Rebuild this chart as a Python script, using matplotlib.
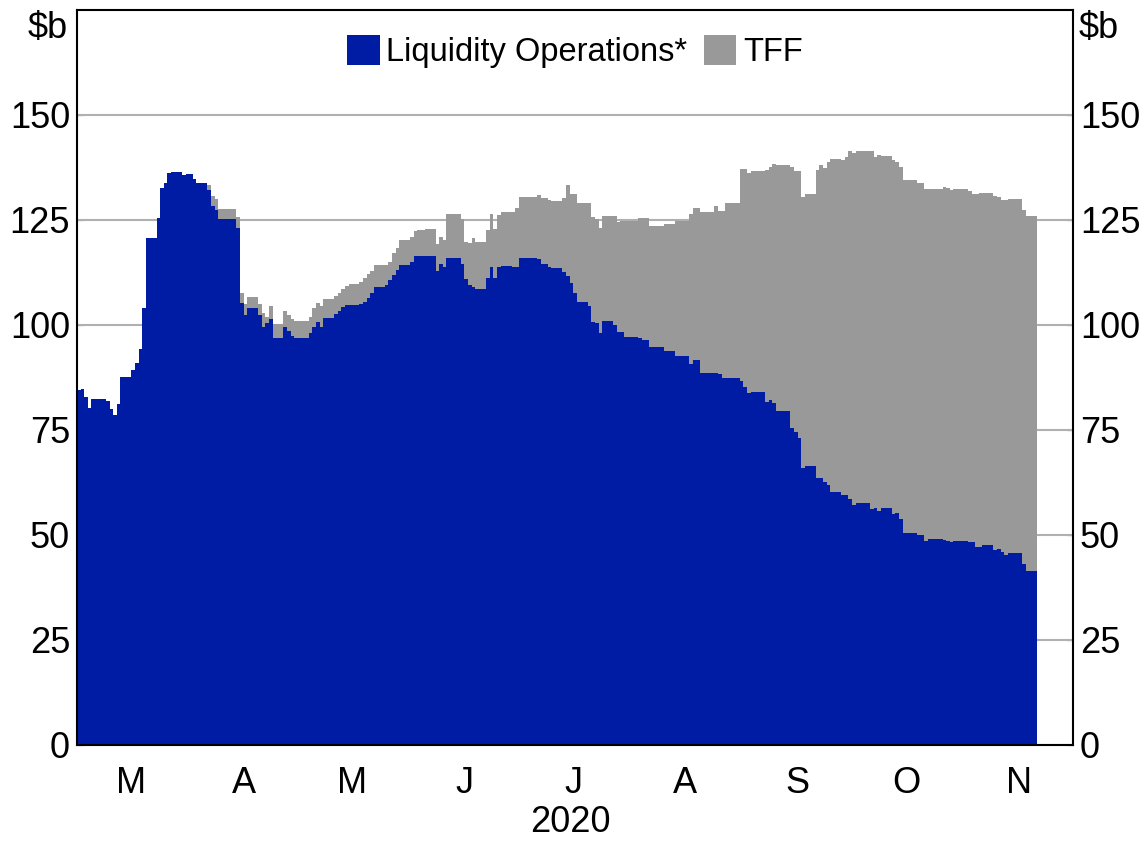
import numpy as np
import pandas as pd
import matplotlib
matplotlib.use("Agg")
import matplotlib.pyplot as plt
import matplotlib.dates as mdates
from matplotlib.patches import Patch

plt.rcParams['font.family'] = ['Liberation Sans', 'DejaVu Sans']

# ---- data ($b), each value holds from its date until the next one ----
dates = [
    "2020-03-01", "2020-03-02", "2020-03-03", "2020-03-04", "2020-03-05", "2020-03-09",
    "2020-03-10", "2020-03-11", "2020-03-12", "2020-03-13", "2020-03-16", "2020-03-17",
    "2020-03-18", "2020-03-19", "2020-03-20", "2020-03-23", "2020-03-24", "2020-03-25",
    "2020-03-26", "2020-03-27", "2020-03-30", "2020-03-31", "2020-04-02", "2020-04-03",
    "2020-04-06", "2020-04-07", "2020-04-08", "2020-04-09", "2020-04-14", "2020-04-15",
    "2020-04-16", "2020-04-17", "2020-04-20", "2020-04-21", "2020-04-22", "2020-04-23",
    "2020-04-24", "2020-04-27", "2020-04-28", "2020-04-29", "2020-04-30", "2020-05-04",
    "2020-05-05", "2020-05-06", "2020-05-07", "2020-05-08", "2020-05-11", "2020-05-12",
    "2020-05-13", "2020-05-14", "2020-05-15", "2020-05-18", "2020-05-19", "2020-05-20",
    "2020-05-21", "2020-05-22", "2020-05-25", "2020-05-26", "2020-05-27", "2020-05-28",
    "2020-05-29", "2020-06-01", "2020-06-02", "2020-06-03", "2020-06-05", "2020-06-08",
    "2020-06-09", "2020-06-10", "2020-06-11", "2020-06-15", "2020-06-16", "2020-06-17",
    "2020-06-18", "2020-06-19", "2020-06-22", "2020-06-23", "2020-06-24", "2020-06-25",
    "2020-06-26", "2020-06-29", "2020-06-30", "2020-07-01", "2020-07-06", "2020-07-07",
    "2020-07-09", "2020-07-10", "2020-07-13", "2020-07-14", "2020-07-15", "2020-07-16",
    "2020-07-17", "2020-07-20", "2020-07-21", "2020-07-22", "2020-07-23", "2020-07-24",
    "2020-07-27", "2020-07-28", "2020-07-29", "2020-07-30", "2020-08-03", "2020-08-04",
    "2020-08-05", "2020-08-06", "2020-08-10", "2020-08-13", "2020-08-17", "2020-08-18",
    "2020-08-20", "2020-08-24", "2020-08-25", "2020-08-26", "2020-08-27", "2020-08-31",
    "2020-09-01", "2020-09-02", "2020-09-03", "2020-09-07", "2020-09-08", "2020-09-09",
    "2020-09-10", "2020-09-14", "2020-09-15", "2020-09-16", "2020-09-17", "2020-09-18",
    "2020-09-21", "2020-09-22", "2020-09-23", "2020-09-24", "2020-09-25", "2020-09-28",
    "2020-09-29", "2020-09-30", "2020-10-01", "2020-10-02", "2020-10-06", "2020-10-07",
    "2020-10-08", "2020-10-09", "2020-10-12", "2020-10-13", "2020-10-14", "2020-10-15",
    "2020-10-19", "2020-10-20", "2020-10-21", "2020-10-22", "2020-10-26", "2020-10-27",
    "2020-10-28", "2020-10-29", "2020-11-02", "2020-11-03", "2020-11-04", "2020-11-05",
    "2020-11-06", "2020-11-09", "2020-11-10", "2020-11-11", "2020-11-12", "2020-11-13",
    "2020-11-16", "2020-11-17", "2020-11-18",
]
end_date = "2020-11-21"

liquidity = [
    84.4, 84.8, 82.8, 80.3, 82.3, 81.8,
    79.9, 78.5, 81.2, 87.5, 89.3, 91.0,
    94.3, 104.1, 120.6, 125.4, 132.5, 133.7,
    136.1, 136.4, 135.7, 136.0, 134.7, 133.7,
    132.1, 128.2, 127.4, 125.2, 123.0, 105.2,
    102.4, 104.0, 102.4, 99.6, 100.4, 101.3,
    96.8, 99.6, 98.6, 97.4, 97.0, 98.0,
    99.6, 100.8, 99.4, 101.6, 102.6, 103.2,
    104.2, 104.8, 104.8, 105.0, 105.5, 106.3,
    107.5, 109.0, 109.5, 110.7, 111.9, 113.1,
    114.3, 115.1, 116.3, 116.3, 116.4, 112.9,
    114.5, 113.7, 115.9, 114.5, 110.9, 109.5,
    109.1, 108.6, 111.1, 113.9, 111.1, 113.7,
    114.0, 113.7, 113.7, 116.0, 115.6, 114.5,
    113.9, 113.5, 112.7, 111.7, 109.9, 107.7,
    105.4, 104.4, 100.8, 100.4, 98.0, 101.0,
    100.0, 98.2, 98.4, 97.2, 96.8, 96.3,
    96.4, 94.8, 93.9, 92.5, 90.7, 91.7,
    88.5, 88.5, 88.3, 87.3, 87.3, 86.7,
    85.3, 83.7, 84.1, 81.7, 82.1, 81.3,
    79.4, 75.4, 74.4, 73.0, 66.0, 66.4,
    63.6, 63.5, 62.5, 61.8, 60.3, 59.5,
    59.6, 58.5, 57.1, 57.7, 56.1, 56.5,
    55.6, 56.3, 55.0, 55.2, 53.7, 50.5,
    50.0, 50.0, 48.6, 49.0, 48.8, 48.5,
    48.4, 48.6, 48.4, 48.4, 47.2, 47.2,
    47.7, 46.3, 46.6, 46.0, 45.2, 45.6,
    45.7, 43.1, 41.5,
]

tff = [
    0, 0, 0, 0, 0, 0,
    0, 0, 0, 0, 0, 0,
    0, 0, 0, 0, 0, 0,
    0, 0, 0, 0, 0, 0,
    1.2, 2.4, 2.5, 2.5, 2.6, 2.5,
    2.6, 2.7, 2.7, 3.2, 1.6, 3.2,
    3.4, 3.6, 3.8, 3.9, 4.0, 4.0,
    4.4, 4.4, 5.0, 4.5, 4.3, 4.5,
    4.3, 4.5, 5.0, 5.3, 5.6, 5.8,
    5.4, 5.2, 4.7, 4.4, 5.3, 5.1,
    5.9, 5.9, 6.1, 6.3, 6.5, 6.4,
    6.5, 6.6, 10.5, 10.7, 8.9, 10.1,
    11.5, 11.2, 11.5, 12.5, 11.7, 12.5,
    12.8, 13.1, 14.1, 14.4, 15.3, 15.7,
    15.9, 16.1, 17.5, 21.6, 21.3, 23.5,
    23.6, 24.6, 24.8, 24.8, 25.0, 25.0,
    26.0, 26.2, 26.4, 27.6, 28.6, 29.1,
    29.0, 28.8, 30.1, 32.3, 35.7, 36.2,
    38.4, 39.7, 38.8, 39.8, 41.8, 50.4,
    51.8, 52.4, 52.6, 55.2, 55.6, 57.0,
    58.6, 62.1, 62.3, 63.7, 64.5, 64.8,
    73.4, 74.5, 74.8, 77.1, 79.2, 79.8,
    80.4, 83.0, 83.9, 83.8, 85.4, 83.5,
    84.9, 83.9, 84.3, 83.7, 84.0, 83.9,
    83.9, 83.9, 83.7, 83.3, 84.0, 84.0,
    83.7, 83.7, 83.6, 82.7, 83.9, 84.1,
    83.6, 84.5, 83.8, 83.8, 84.6, 84.3,
    84.2, 84.3, 84.5,
]

y_ticks = [0, 25, 50, 75, 100, 125, 150]
unit_label = "\\$b"
month_letters = ["M", "A", "M", "J", "J", "A", "S", "O", "N"]
year_label = "2020"
series_names = ["Liquidity Operations*", "TFF"]

BLUE = "#001ca5"
GREY = "#999999"
FS = 26

# ---- figure ----
fig = plt.figure(figsize=(11.4, 8.41), dpi=100)
ax = fig.add_axes([0.0675, 0.1142, 0.8737, 0.8740])

edges = mdates.date2num(pd.to_datetime(dates + [end_date]))
liq = np.array(liquidity)
top = liq + np.array(tff)

ax.stairs(liq, edges, baseline=0, fill=True, color=BLUE, zorder=2)
ax.stairs(top, edges, baseline=liq, fill=True, color=GREY, zorder=2)

ax.set_ylim(0, 175)
ax.set_xlim(mdates.date2num(pd.Timestamp("2020-03-01")),
            mdates.date2num(pd.Timestamp("2020-12-01")))

ax.set_yticks(y_ticks)
ax.yaxis.set_ticks_position("both")
ax.tick_params(axis="y", which="both", direction="in", length=4, width=1,
               color="#b0b0b0", labelsize=FS, labelright=True, pad=5)
ax.grid(axis="y", color="#b0b0b0", linewidth=1.5, zorder=0)
ax.set_axisbelow(True)

# unit labels at the top of both axes
ax.text(-0.009, 0.975, unit_label, transform=ax.transAxes, ha="right", va="center",
        fontsize=FS)
ax.text(1.006, 0.975, unit_label, transform=ax.transAxes, ha="left", va="center",
        fontsize=FS)

# month ticks at boundaries, letters in the middle of each month
month_starts = pd.date_range("2020-04-01", "2020-11-01", freq="MS")
mid_months = pd.date_range("2020-03-01", "2020-11-01", freq="MS") + pd.Timedelta(days=15)
ax.set_xticks(mdates.date2num(month_starts))
ax.set_xticklabels([])
ax.set_xticks(mdates.date2num(mid_months), minor=True)
ax.set_xticklabels(month_letters, minor=True)
ax.tick_params(axis="x", which="major", direction="in", length=10, width=1.5,
               color="black", top=False)
ax.tick_params(axis="x", which="minor", length=0, labelsize=FS, pad=15)
for t in ax.get_xticklines(minor=False):
    t.set_zorder(5)
ax.text(0.495, -0.106, year_label, transform=ax.transAxes, ha="center", va="center",
        fontsize=FS)

for s in ax.spines.values():
    s.set_linewidth(1.5)
    s.set_color("black")
    s.set_zorder(6)

handles = [Patch(facecolor=BLUE, edgecolor="none"), Patch(facecolor=GREY, edgecolor="none")]
ax.legend(handles, series_names, loc="center", bbox_to_anchor=(0.5, 0.943), ncol=2,
          frameon=False, fontsize=23.5, handlelength=1.0, handleheight=1.0,
          handletextpad=0.2, columnspacing=0.5)

fig.savefig("out.png", dpi=100)
